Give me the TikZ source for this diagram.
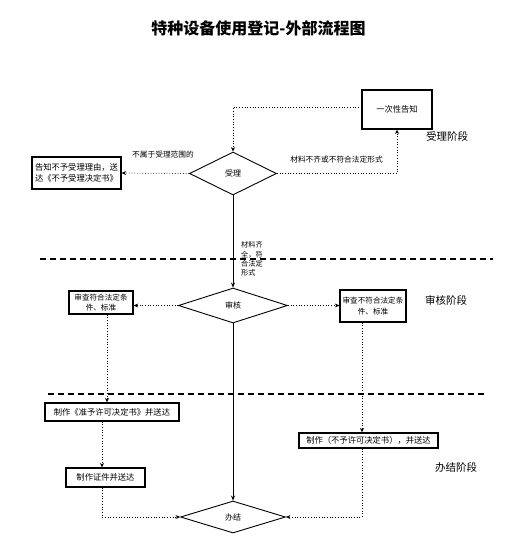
\documentclass[tikz,border=0pt]{standalone}
\usepackage{fontspec}
\setmainfont{Noto Sans CJK SC}
\usetikzlibrary{shapes.geometric,arrows.meta}
\begin{document}
\begin{tikzpicture}[x=1pt,y=-1pt,
  box/.style={draw, line width=1.3pt, inner sep=0pt, align=center, font=\fontsize{8.3}{11}\selectfont},
  dia/.style={draw, diamond, line width=0.9pt, inner sep=0pt, font=\fontsize{8}{10}\selectfont},
  dotarrow/.style={dotted, line width=0.7pt, -{Stealth[length=4.5pt,width=4pt]}},
  solarrow/.style={line width=0.9pt, -{Stealth[length=5pt,width=4pt]}},
  sepline/.style={dash pattern=on 6pt off 4pt, line width=1.1pt},
  lbl/.style={inner sep=0pt, font=\fontsize{7.7}{8}\selectfont},
  stage/.style={inner sep=0pt, font=\fontsize{10.5}{12}\selectfont}]
\useasboundingbox[fill=white] (0,0) rectangle (507,539);

\node[inner sep=0pt, font=\fontsize{16}{18}\selectfont\bfseries] (title) at (258.5,28) {特种设备使用登记-外部流程图};

% nodes
\node[box, minimum width=70pt, minimum height=39pt] (gz) at (397,109.5) {一次性告知};
\node[dia, minimum width=87pt, minimum height=43pt] (sl) at (233,173.5) {受理};
\node[box, minimum width=89pt, minimum height=32pt] (bs) at (76.5,173) {告知不予受理理由，送\\达《不予受理决定书》};
\node[dia, minimum width=109pt, minimum height=35pt] (sh) at (233,305.5) {审核};
\node[box, minimum width=64pt, minimum height=23pt, font=\fontsize{7.6}{10}\selectfont] (lbox) at (101,302.5) {审查符合法定条\\件、标准};
\node[box, minimum width=66pt, minimum height=32pt, font=\fontsize{7.6}{11}\selectfont] (rbox) at (373,306) {审查不符合法定条\\件、标准};
\node[box, minimum width=134pt, minimum height=18pt] (zz) at (112,412) {制作《准予许可决定书》并送达};
\node[box, minimum width=79pt, minimum height=19pt] (zj) at (105.5,477.5) {制作证件并送达};
\node[box, minimum width=139pt, minimum height=15pt] (bx) at (368.5,440.5) {制作（不予许可决定书），并送达};
\node[dia, minimum width=105pt, minimum height=32pt] (bj) at (233,517) {办结};

% stage labels
\node[stage] (s1) at (447,136) {受理阶段};
\node[stage] (s2) at (446,300) {审核阶段};
\node[stage] (s3) at (456,467) {办结阶段};

% separators
\coordinate (d1a) at (40,259);
\coordinate (d1b) at (493,259);
\coordinate (d2a) at (48,394);
\coordinate (d2b) at (486,394);
\draw[sepline] (d1a) -- (d1b);
\draw[sepline] (d2a) -- (d2b);

% connectors
\draw[dotarrow] ([yshift=2.5pt]gz.west) -| (sl.north);
\draw[dotarrow] (sl.east) -| (gz.south);
\draw[dotarrow] (sl.west) -- (bs.east);
\draw[solarrow] (sl.south) -- (sh.north);
\draw[dotarrow] (sh.west) -- (sh.west -| lbox.east);
\draw[dotarrow] (sh.east) -- (sh.east -| rbox.west);
\draw[dotarrow] ([xshift=6pt]lbox.south) -- ([xshift=6pt]lbox.south |- zz.north);
\draw[dotarrow] ([xshift=-3.5pt]zj.north |- zz.south) -- ([xshift=-3.5pt]zj.north);
\draw[dotarrow] ([xshift=-3.5pt]zj.south) |- (bj.west);
\draw[dotarrow] ([xshift=-11pt]rbox.south) -- ([xshift=-11pt]rbox.south |- bx.north);
\draw[dotarrow] ([xshift=-6.5pt]bx.south) |- (bj.east);
\draw[solarrow] (sh.south) -- (bj.north);

% edge labels
\node[lbl] (l1) at (163,155) {不属于受理范围的};
\node[lbl] (l2) at (336.5,160) {材料不齐或不符合法定形式};
\node[lbl, align=left, font=\fontsize{7.2}{9.2}\selectfont] (l3) at (252,259) {材料齐\\全，符\\合法定\\形式};
\end{tikzpicture}
\end{document}
